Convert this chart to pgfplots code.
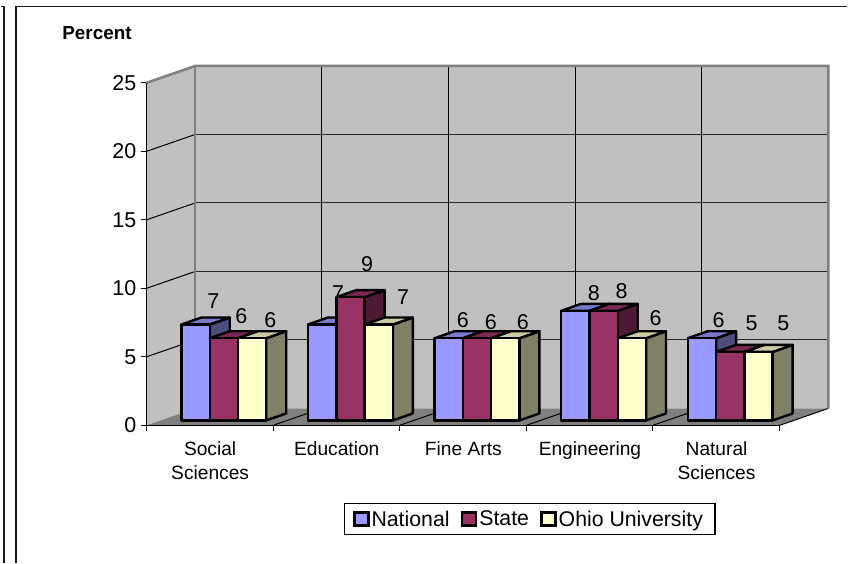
\documentclass[border=0pt]{standalone}
\usepackage{pgfplots}
\pgfplotsset{compat=1.18}
\usepackage{fontspec}
\setmainfont{Liberation Sans}
\definecolor{nf}{HTML}{9999FF}\definecolor{nt}{HTML}{7A7ACC}\definecolor{ns}{HTML}{4D4D80}
\definecolor{sf}{HTML}{993366}\definecolor{st}{HTML}{7A2952}\definecolor{ss}{HTML}{4D1A33}
\definecolor{of}{HTML}{FFFFCC}\definecolor{ot}{HTML}{CCCCA3}\definecolor{os}{HTML}{808066}
\definecolor{wall}{HTML}{C0C0C0}\definecolor{edge}{HTML}{808080}
\newcommand\pxfont[1]{\fontsize{#1bp}{#1bp}\selectfont}
\newcommand\threeD[6]{%
  \pgfmathsetmacro\xb{#1+20}\pgfmathsetmacro\xc{#2+20}%
  \pgfmathsetmacro\yb{0.36}\pgfmathsetmacro\yc{0.87}%
  \pgfmathsetmacro\yt{#3+0.36}\pgfmathsetmacro\yu{#3+0.87}%
  \edef\tmp{%
    \noexpand\addplot[forget plot,fill=#6,draw=black,line width=2.4bp,line join=round] coordinates {(#2,\yb)(\xc,\yc)(\xc,\yu)(#2,\yt)} --cycle;
    \noexpand\addplot[forget plot,fill=#5,draw=black,line width=2.4bp,line join=round] coordinates {(#1,\yt)(#2,\yt)(\xc,\yu)(\xb,\yu)} --cycle;
    \noexpand\addplot[forget plot,fill=#4,draw=black,line width=2.4bp,line join=round] coordinates {(#1,\yb)(#2,\yb)(#2,\yt)(#1,\yt)} --cycle;
  }\tmp}
\newcommand\lab[3]{%
  \pgfmathsetmacro\yy{(425-#2-7.5)/13.72}%
  \edef\tmp{\noexpand\node[anchor=base,inner sep=0pt,font=\noexpand\pxfont{21.5}] at (axis cs:#1,\yy) {#3};}\tmp}
\begin{document}
\begin{tikzpicture}
\begin{axis}[
  scale only axis, width=634bp, height=343bp,
  xmin=146, xmax=780, ymin=0, ymax=25, clip=false, axis on top,
  axis y line*=left, axis x line*=bottom, axis line style={-, black, line width=1bp},
  x axis line style={line width=1.6bp},
  tick align=outside, major tick length=5.5bp,
  tick style={black, line width=1bp},
  ytick={0,5,10,15,20,25},
  xtick={146,272.8,399.6,526.4,653.2,780}, xticklabels={},
  extra x ticks={209,335.8,462.6,589.4,716.2},
  extra x tick labels={{Social\\Sciences},{Education},{Fine Arts},{Engineering},{Natural\\Sciences}},
  extra x tick style={major tick length=0pt, tick style={draw=none},
    tick label style={align=center, font=\fontsize{19.2bp}{24bp}\selectfont, yshift=-13bp, xshift=0.8bp}},
  y tick label style={font=\pxfont{21.5}, /pgf/number format/assume math mode=true},
  yticklabel style={inner sep=0pt, xshift=-4.5bp},
  legend style={at={(0.6057,-0.274)}, anchor=center, draw=black, line width=1.3bp,
    font=\pxfont{21.3}, legend columns=3, inner xsep=8bp, inner ysep=5bp,
    /tikz/every even column/.append style={column sep=9bp}},
  legend cell align=left,
  legend image code/.code={\draw[#1,draw=black,line width=2.8bp] (0bp,-6.5bp) rectangle (14bp,7bp);},
]
\addlegendimage{fill=nf}\addlegendentry{\vphantom{Ny}National}
\addlegendimage{fill=sf}\addlegendentry{\vphantom{Ny}State}
\addlegendimage{fill=of}\addlegendentry{\vphantom{Ny}Ohio University\kern2bp}
\path (axis cs:0,-10.06) rectangle (axis cs:848,31.05);
\addplot[forget plot,fill=wall,draw=none] coordinates {(146,0)(195,1.239)(195,26.239)(146,25)} --cycle;
\addplot[forget plot,fill=wall,draw=none] coordinates {(195,1.239)(829,1.239)(829,26.239)(195,26.239)} --cycle;
\addplot[forget plot,fill=edge,draw=none] coordinates {(146,0)(195,1.239)(829,1.239)(780,0)} --cycle;
\foreach \v/\w in {5/6.239,10/11.239,15/16.239,20/21.239}{
  \edef\tmp{\noexpand\addplot[forget plot,black,line width=1bp] coordinates {(146,\v)(195,\w)};
  \noexpand\addplot[forget plot,black!85,line width=1bp] coordinates {(195,\w)(829,\w)};}\tmp}
\foreach \x in {321.8,448.6,575.4,702.2}{
  \edef\tmp{\noexpand\addplot[forget plot,black,line width=1bp] coordinates {(\x,1.239)(\x,26.239)};}\tmp}
\foreach \x/\y in {272.8/321.8,399.6/448.6,526.4/575.4,653.2/702.2}{
  \edef\tmp{\noexpand\addplot[forget plot,black,line width=1bp] coordinates {(\x,0)(\y,1.239)};}\tmp}
\addplot[forget plot,black,line width=1bp] coordinates {(780,0)(829,1.239)};
\addplot[forget plot,edge,line width=2.6bp,line join=miter] coordinates {(146,25)(195,26.239)(829,26.239)(829,1.239)};
\addplot[forget plot,edge,line width=2.2bp] coordinates {(195,26.239)(195,1.239)};
\threeD{181}{209.4}{7}{nf}{nt}{ns}\threeD{209.4}{237.7}{6}{sf}{st}{ss}\threeD{237.7}{266}{6}{of}{ot}{os}
\threeD{307.8}{336.2}{7}{nf}{nt}{ns}\threeD{336.2}{364.5}{9}{sf}{st}{ss}\threeD{364.5}{392.8}{7}{of}{ot}{os}
\threeD{434.6}{463}{6}{nf}{nt}{ns}\threeD{463}{491.3}{6}{sf}{st}{ss}\threeD{491.3}{519.6}{6}{of}{ot}{os}
\threeD{561.4}{589.8}{8}{nf}{nt}{ns}\threeD{589.8}{618.1}{8}{sf}{st}{ss}\threeD{618.1}{646.4}{6}{of}{ot}{os}
\threeD{688.2}{716.6}{6}{nf}{nt}{ns}\threeD{716.6}{744.9}{5}{sf}{st}{ss}\threeD{744.9}{773.2}{5}{of}{ot}{os}
\lab{213}{300}{7}\lab{241}{315}{6}\lab{270}{319}{6}
\lab{338}{292}{7}\lab{367}{263}{9}\lab{403}{296}{7}
\lab{463}{319}{6}\lab{491}{321}{6}\lab{523}{321}{6}
\lab{594}{292}{8}\lab{622}{290}{8}\lab{656}{317}{6}
\lab{719}{319}{6}\lab{752}{323}{5}\lab{784}{323}{5}
\node[anchor=base,inner sep=0pt,font=\pxfont{18.9}\bfseries] at (axis cs:96.5,28.2) {Percent};
\addplot[forget plot,black!90,line width=1.3bp] coordinates {(15.5,-10.06)(15.5,30.58)(848,30.58)};
\addplot[forget plot,black!90,line width=1.3bp] coordinates {(3.3,-10.06)(3.3,30.58)(0,30.58)};
\end{axis}
\end{tikzpicture}
\end{document}
